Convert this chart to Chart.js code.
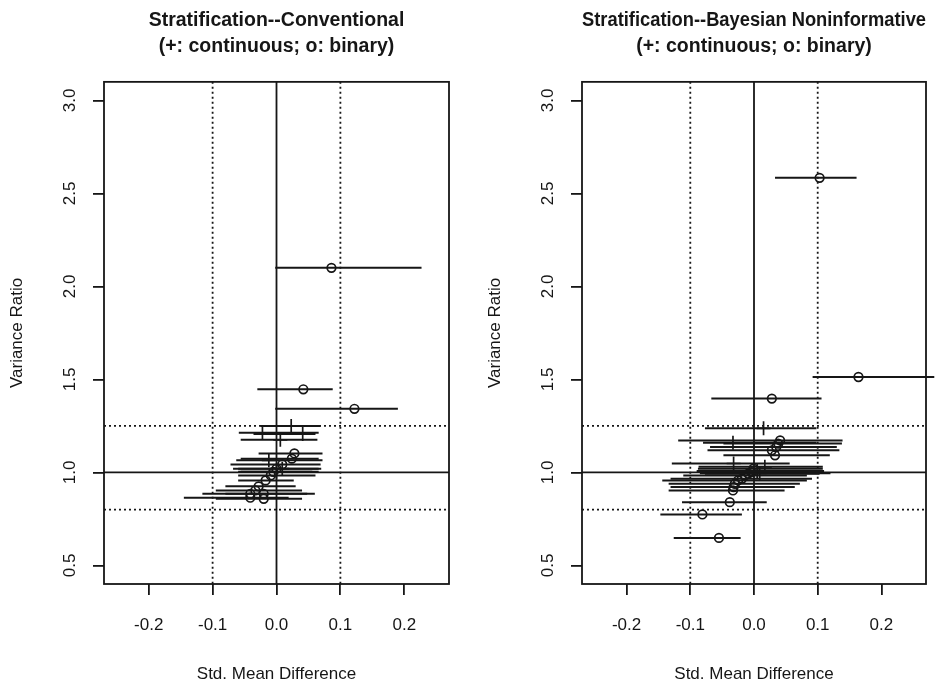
<!DOCTYPE html>
<html>
<head>
<meta charset="utf-8">
<script src="https://cdn.jsdelivr.net/npm/chart.js@4.4.1/dist/chart.umd.min.js"></script>
<style>
  html, body { margin: 0; padding: 0; background: #fff; overflow: hidden; }
  #wrap { position: relative; width: 936px; height: 683px; }
  .panel { position: absolute; top: 0; height: 683px; }
</style>
</head>
<body>
<div id="wrap">
  <div class="panel" style="left:0;width:468px"><canvas id="conv" width="468" height="683"></canvas></div>
  <div class="panel" style="left:478px;width:458px"><canvas id="bayes" width="458" height="683"></canvas></div>
</div>
<script>
// axis ticks and reference lines
const xTicks = [-0.2, -0.1, 0.0, 0.1, 0.2];
const yTicks = [0.5, 1.0, 1.5, 2.0, 2.5, 3.0];
const xDotted = [-0.1, 0.1];
const yDotted = [0.8, 1.25];
const xSolid = [0];
const ySolid = [1];

// Stratification--Conventional, continuous covariates (+)
const convContSmd = [0.023, -0.022, 0.041, 0.006, -0.012, 0.009, 0.000];
const convContVr  = [1.250, 1.213, 1.207, 1.175, 1.065, 1.020, 1.003];
const convContLo  = [-0.025, -0.059, -0.036, -0.056, -0.063, -0.068, -0.060];
const convContHi  = [0.069, 0.066, 0.061, 0.064, 0.072, 0.070, 0.066];

// Stratification--Conventional, binary covariates (o)
const convBinSmd = [0.086, 0.042, 0.122, 0.028, 0.024, 0.009, 0.000, -0.005, -0.009, -0.017, -0.028, -0.033, -0.041, -0.041, -0.020, -0.020];
const convBinVr  = [2.100, 1.447, 1.342, 1.102, 1.074, 1.043, 1.020, 1.003, 0.984, 0.957, 0.925, 0.903, 0.885, 0.864, 0.885, 0.858];
const convBinLo  = [-0.002, -0.030, -0.002, -0.028, -0.056, -0.072, -0.060, -0.056, -0.060, -0.060, -0.080, -0.095, -0.116, -0.145, -0.080, -0.095];
const convBinHi  = [0.227, 0.088, 0.190, 0.072, 0.066, 0.069, 0.066, 0.056, 0.061, 0.027, 0.030, 0.040, 0.048, 0.019, 0.060, 0.040];

// Stratification--Bayesian Noninformative, continuous covariates (+)
const bayesContSmd = [0.015, -0.033, -0.032, 0.017, 0.005, 0.009];
const bayesContVr  = [1.237, 1.159, 1.048, 1.030, 1.008, 0.995];
const bayesContLo  = [-0.077, -0.080, -0.129, -0.087, -0.090, -0.085];
const bayesContHi  = [0.098, 0.098, 0.056, 0.108, 0.110, 0.120];

// Stratification--Bayesian Noninformative, binary covariates (o)
const bayesBinSmd = [0.103, 0.164, 0.028, 0.041, 0.038, 0.035, 0.028, 0.033, -0.001, -0.004, -0.009, -0.014, -0.019, -0.025, -0.030, -0.032, -0.033, -0.038, -0.081, -0.055];
const bayesBinVr  = [2.584, 1.513, 1.397, 1.172, 1.155, 1.136, 1.119, 1.092, 1.020, 1.002, 0.993, 0.984, 0.966, 0.957, 0.939, 0.921, 0.903, 0.840, 0.774, 0.648];
const bayesBinLo  = [0.033, 0.092, -0.067, -0.119, -0.048, -0.069, -0.073, -0.048, -0.088, -0.084, -0.077, -0.111, -0.131, -0.144, -0.134, -0.131, -0.134, -0.113, -0.147, -0.126];
const bayesBinHi  = [0.161, 0.283, 0.106, 0.139, 0.138, 0.130, 0.134, 0.119, 0.108, 0.108, 0.103, 0.083, 0.091, 0.083, 0.072, 0.064, 0.048, 0.020, -0.019, -0.021];

const FONT = '"Liberation Sans", Arial, Helvetica, sans-serif';
const INK = '#161616';

const framePlugin = {
    id: 'frame',
    beforeDatasetsDraw(chart) {
        const { ctx, chartArea: a, scales: { x, y } } = chart;
        ctx.save();
        ctx.strokeStyle = INK;
        ctx.lineWidth = 1.8;
        const vline = v => {
            const px = x.getPixelForValue(v);
            ctx.beginPath(); ctx.moveTo(px, a.top); ctx.lineTo(px, a.bottom); ctx.stroke();
        };
        const hline = v => {
            const py = y.getPixelForValue(v);
            ctx.beginPath(); ctx.moveTo(a.left, py); ctx.lineTo(a.right, py); ctx.stroke();
        };
        ctx.setLineDash([2, 3]);
        xDotted.forEach(vline);
        yDotted.forEach(hline);
        ctx.setLineDash([]);
        xSolid.forEach(vline);
        ySolid.forEach(hline);
        ctx.restore();
    },
    afterDraw(chart) {
        const { ctx, chartArea: a } = chart;
        ctx.save();
        ctx.strokeStyle = INK;
        ctx.lineWidth = 1.8;
        ctx.strokeRect(a.left, a.top, a.right - a.left, a.bottom - a.top);
        ctx.restore();
    }
};

function buildDatasets(cSmd, cVr, cLo, cHi, bSmd, bVr, bLo, bHi) {
    const sets = [];
    const seg = (lo, hi, v) => ({
        data: [{ x: lo, y: v }, { x: hi, y: v }],
        showLine: true,
        borderColor: INK,
        borderWidth: 2,
        pointRadius: 0,
        clip: false
    });
    cVr.forEach((v, i) => sets.push(seg(cLo[i], cHi[i], v)));
    bVr.forEach((v, i) => sets.push(seg(bLo[i], bHi[i], v)));
    sets.push({
        label: 'continuous',
        data: cSmd.map((s, i) => ({ x: s, y: cVr[i] })),
        pointStyle: 'cross',
        pointRadius: 7,
        borderColor: INK,
        borderWidth: 1.7
    });
    sets.push({
        label: 'binary',
        data: bSmd.map((s, i) => ({ x: s, y: bVr[i] })),
        pointStyle: 'circle',
        pointRadius: 4.3,
        borderColor: INK,
        backgroundColor: 'rgba(0,0,0,0)',
        borderWidth: 1.7
    });
    return sets;
}

function makePanel(el, title, datasets, padRight) {
    const tickFont = { family: FONT, size: 17 };
    new Chart(el, {
        type: 'scatter',
        data: { datasets },
        options: {
            responsive: false,
            animation: false,
            layout: { padding: { left: 0, right: padRight, top: 0, bottom: 0 } },
            plugins: {
                legend: { display: false },
                tooltip: { enabled: false },
                title: {
                    display: true,
                    text: title,
                    fullSize: false,
                    color: INK,
                    font: { family: FONT, size: 19.5, weight: 'bold', lineHeight: 1.33 },
                    padding: { top: 8, bottom: 22 }
                }
            },
            scales: {
                x: {
                    type: 'linear',
                    min: -0.27,
                    max: 0.27,
                    afterBuildTicks: s => { s.ticks = xTicks.map(v => ({ value: v })); },
                    afterFit: s => { s.height = 99; },
                    border: { display: false },
                    grid: { drawOnChartArea: false, drawTicks: true, tickLength: 11, color: INK, lineWidth: 1.8 },
                    ticks: { callback: v => v.toFixed(1), font: tickFont, color: INK, padding: 20, autoSkip: false, maxRotation: 0 },
                    title: { display: true, text: 'Std. Mean Difference', color: INK, font: { family: FONT, size: 17, lineHeight: 1 }, padding: { top: 0, bottom: 0 } }
                },
                y: {
                    type: 'linear',
                    min: 0.4,
                    max: 3.1,
                    afterBuildTicks: s => { s.ticks = yTicks.map(v => ({ value: v })); },
                    afterFit: s => { s.width = 104; },
                    border: { display: false },
                    grid: { drawOnChartArea: false, drawTicks: true, tickLength: 11, color: INK, lineWidth: 1.8 },
                    ticks: { callback: v => v.toFixed(1), font: tickFont, color: INK, padding: 11, autoSkip: false, minRotation: 90, maxRotation: 90, crossAlign: 'center' },
                    title: { display: true, text: 'Variance Ratio', color: INK, font: { family: FONT, size: 17, lineHeight: 1 }, padding: { top: 9, bottom: 0 } }
                }
            }
        },
        plugins: [framePlugin]
    });
}

makePanel(document.getElementById('conv'),
    ['Stratification--Conventional', '(+: continuous; o: binary)'],
    buildDatasets(convContSmd, convContVr, convContLo, convContHi, convBinSmd, convBinVr, convBinLo, convBinHi),
    19);

makePanel(document.getElementById('bayes'),
    ['Stratification--Bayesian Noninformative', '(+: continuous; o: binary)'],
    buildDatasets(bayesContSmd, bayesContVr, bayesContLo, bayesContHi, bayesBinSmd, bayesBinVr, bayesBinLo, bayesBinHi),
    10);
</script>
</body>
</html>
